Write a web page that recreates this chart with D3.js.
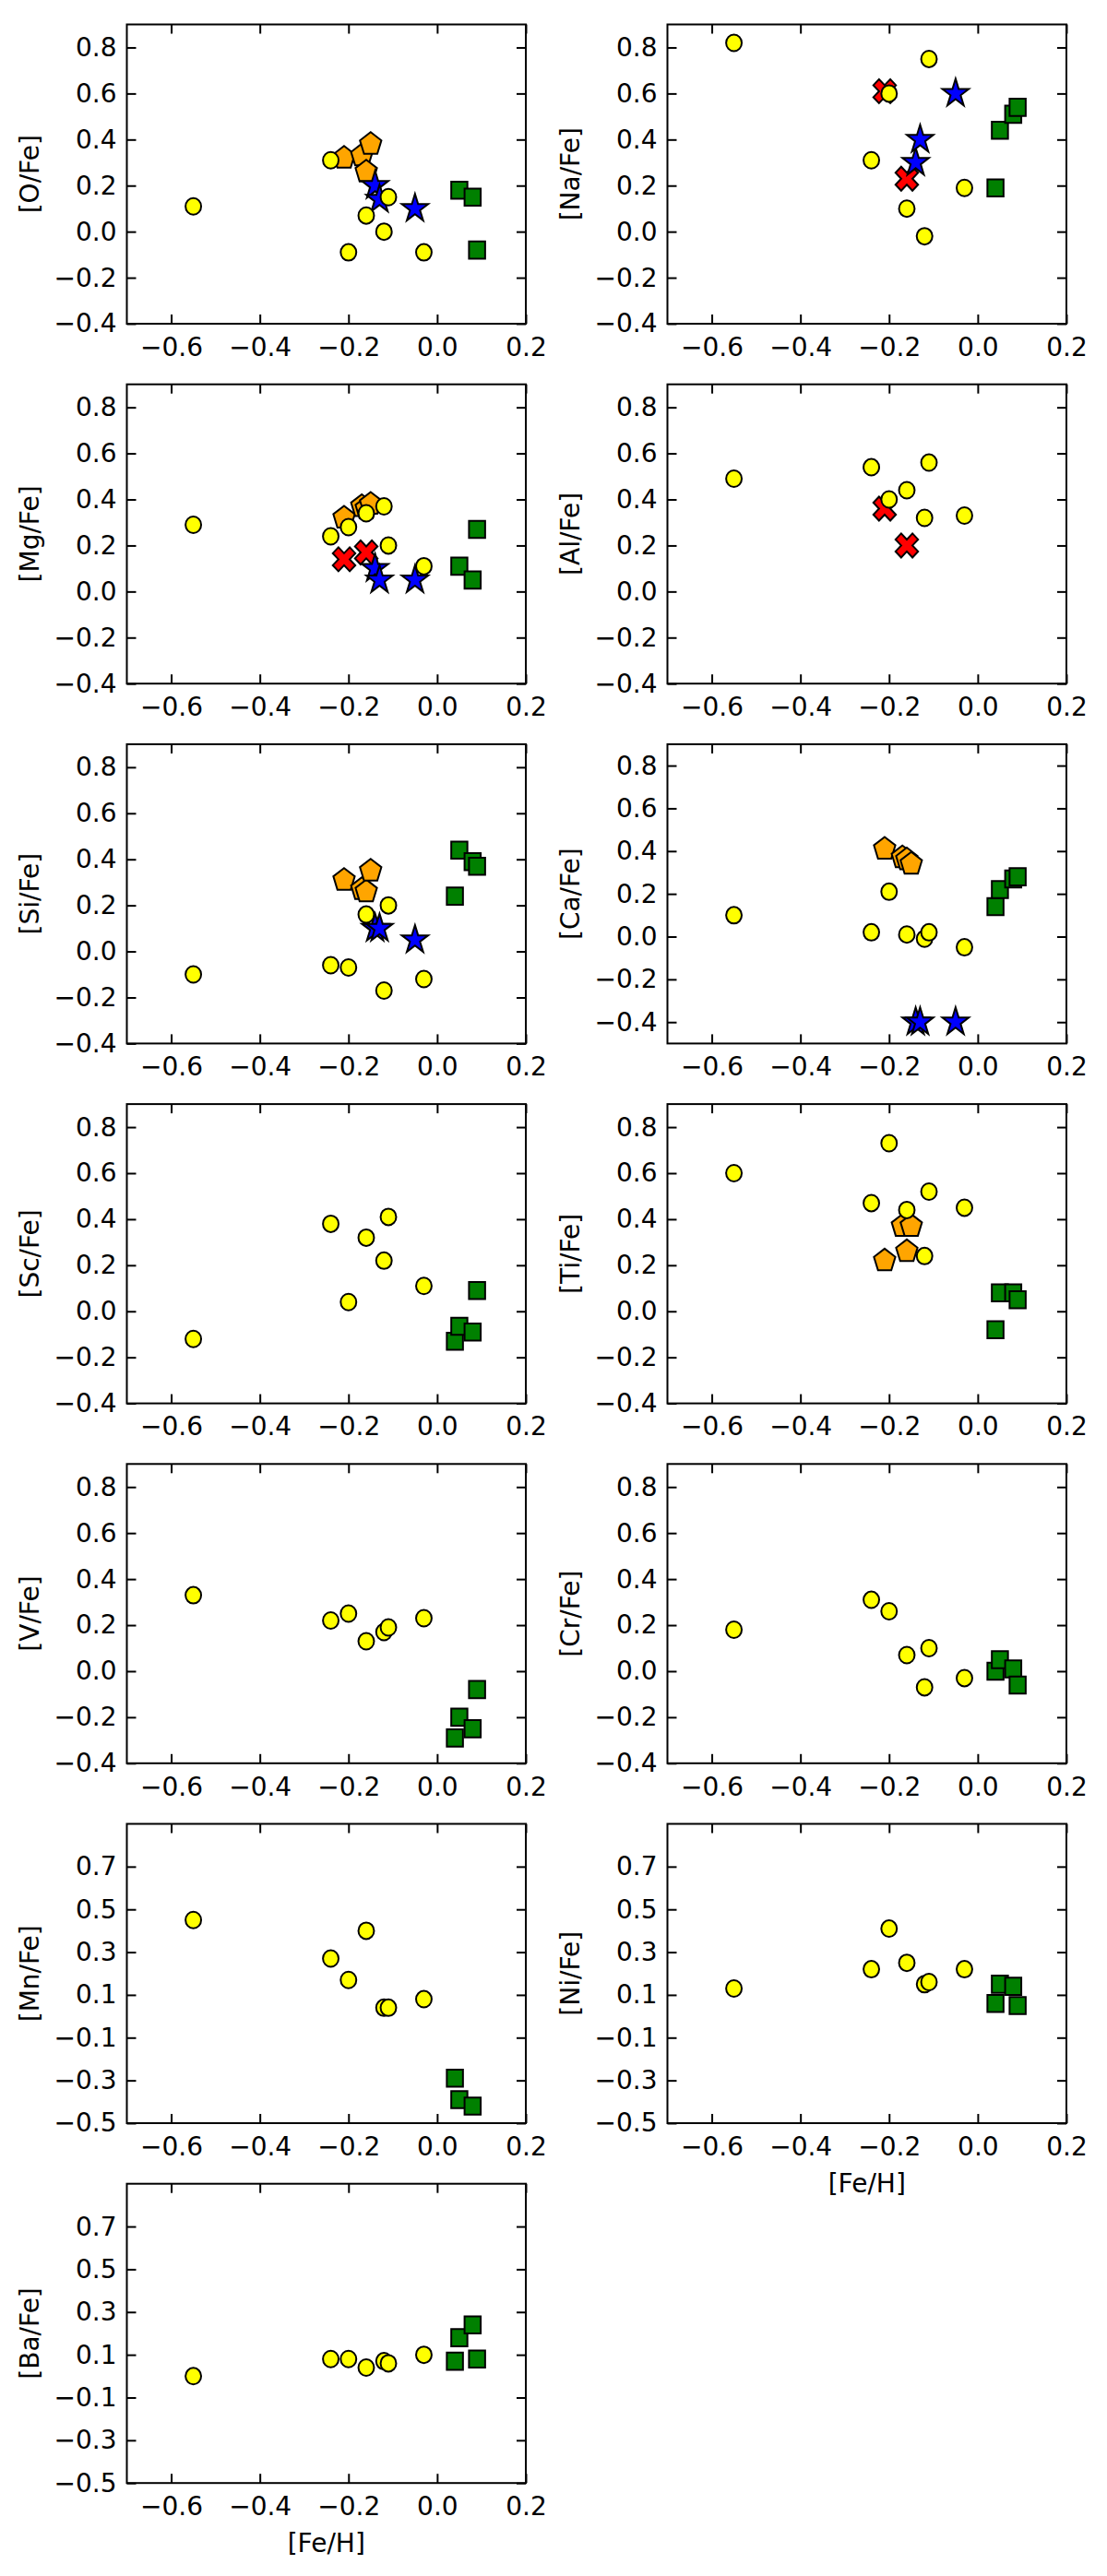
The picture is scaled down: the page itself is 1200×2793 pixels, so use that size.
<!DOCTYPE html>
<html>
<head>
<meta charset="utf-8">
<script src="https://cdn.jsdelivr.net/npm/d3@7"></script>
<style>
body { margin: 0; background: #ffffff; }
svg text { font-family: "DejaVu Sans", sans-serif; }
</style>
</head>
<body>
<div id="chart"></div>
<script>

// ---DATA---//

var elements = [ "O", "Na", "Mg", "Al", "Si", "Ca", "Sc", "Ti", "V", "Cr", "Mn", "Ni", "Ba" ];

// lower y limit of each panel (upper is 0.9 everywhere)
var yLow = [ -0.4, -0.4, -0.4, -0.4, -0.4, -0.5, -0.4, -0.4, -0.4, -0.4, -0.5, -0.5, -0.5 ];

var xTicks = [ -0.6, -0.4, -0.2, 0.0, 0.2 ];
var yTicksEven = [ -0.4, -0.2, 0.0, 0.2, 0.4, 0.6, 0.8 ];
var yTicksOdd = [ -0.5, -0.3, -0.1, 0.1, 0.3, 0.5, 0.7 ];

// [Fe/H] of each group of stars
var fehOrange = [ -0.21, -0.17, -0.16, -0.15 ];
var fehRed = [ -0.21, -0.16 ];
var fehBlue = [ -0.14, -0.13, -0.05 ];
var fehGreen = [ 0.04, 0.05, 0.08, 0.09 ];
var fehYellow = [ -0.55, -0.24, -0.20, -0.16, -0.12, -0.11, -0.03 ];

// [X/Fe], one row per element (same order as elements), null = not measured
var orangeValues = [
	[ 0.32, 0.33, 0.26, 0.38 ], // O
	null, // Na
	[ 0.32, 0.37, 0.36, 0.38 ], // Mg
	null, // Al
	[ 0.31, 0.27, 0.26, 0.35 ], // Si
	[ 0.41, 0.37, 0.36, 0.34 ], // Ca
	null, // Sc
	[ 0.22, 0.37, 0.26, 0.37 ], // Ti
	null, null, null, null, null ];

var redValues = [
	null, // O
	[ 0.61, 0.23 ], // Na
	[ 0.14, 0.17 ], // Mg
	[ 0.36, 0.20 ], // Al
	null, null, null, null, null, null, null, null, null ];

var blueValues = [
	[ 0.20, 0.14, 0.10 ], // O
	[ 0.30, 0.40, 0.60 ], // Na
	[ 0.10, 0.05, 0.05 ], // Mg
	null, // Al
	[ 0.10, 0.10, 0.05 ], // Si
	[ -0.40, -0.40, -0.40 ], // Ca
	null, null, null, null, null, null, null ];

var greenValues = [
	[ null, 0.18, 0.15, -0.08 ], // O
	[ 0.19, 0.44, 0.51, 0.54 ], // Na
	[ null, 0.11, 0.05, 0.27 ], // Mg
	null, // Al
	[ 0.24, 0.44, 0.39, 0.37 ], // Si
	[ 0.14, 0.22, 0.27, 0.28 ], // Ca
	[ -0.13, -0.065, -0.09, 0.09 ], // Sc
	[ -0.08, 0.08, 0.08, 0.05 ], // Ti
	[ -0.29, -0.20, -0.25, -0.08 ], // V
	[ 0.00, 0.05, 0.01, -0.06 ], // Cr
	[ -0.29, -0.39, -0.42, null ], // Mn
	[ 0.06, 0.15, 0.14, 0.05 ], // Ni
	[ 0.07, 0.18, 0.24, 0.08 ] // Ba
];

var yellowValues = [
	[ 0.11, 0.31, -0.09, 0.07, 0.00, 0.15, -0.09 ], // O
	[ 0.82, 0.31, 0.60, 0.10, -0.02, 0.75, 0.19 ], // Na
	[ 0.29, 0.24, 0.28, 0.34, 0.37, 0.20, 0.11 ], // Mg
	[ 0.49, 0.54, 0.40, 0.44, 0.32, 0.56, 0.33 ], // Al
	[ -0.10, -0.06, -0.07, 0.16, -0.17, 0.20, -0.12 ], // Si
	[ 0.10, 0.02, 0.21, 0.01, -0.01, 0.02, -0.05 ], // Ca
	[ -0.12, 0.38, 0.04, 0.32, 0.22, 0.41, 0.11 ], // Sc
	[ 0.60, 0.47, 0.73, 0.44, 0.24, 0.52, 0.45 ], // Ti
	[ 0.33, 0.22, 0.25, 0.13, 0.17, 0.19, 0.23 ], // V
	[ 0.18, 0.31, 0.26, 0.07, -0.07, 0.10, -0.03 ], // Cr
	[ 0.45, 0.27, 0.17, 0.40, 0.04, 0.04, 0.08 ], // Mn
	[ 0.13, 0.22, 0.41, 0.25, 0.15, 0.16, 0.22 ], // Ni
	[ 0.00, 0.08, 0.08, 0.04, 0.07, 0.06, 0.10 ] // Ba
];

// ---LAYOUT---//

var width = 1200;
var height = 2793;
var panelLeft = [ 137.5, 723.5 ];
var panelWidth = 432.5;
var panelHeight = 324.5;
var firstTop = 26.5;
var rowPitch = 390.2;
var fontSize = 28;
var lineWidth = 2;

// ---MARKERS---//

function closedPath(points) {
	return "M" + points.map(function(p) {
		return p[0].toFixed(2) + "," + p[1].toFixed(2);
	}).join("L") + "Z";
}

function polygonPoints(n, r) {
	return d3.range(n).map(function(i) {
		var a = -Math.PI / 2 + i * 2 * Math.PI / n;
		return [ r * Math.cos(a), r * Math.sin(a) ];
	});
}

function starPoints(rOut, rIn) {
	return d3.range(10).map(function(i) {
		var r = (i % 2 === 0) ? rOut : rIn;
		var a = -Math.PI / 2 + i * Math.PI / 5;
		return [ r * Math.cos(a), r * Math.sin(a) ];
	});
}

// filled "X": outline spans -2..2, scaled so that half the extent is h
function crossPoints(h) {
	var pts = [ [ -1, -2 ], [ 0, -1 ], [ 1, -2 ], [ 2, -1 ], [ 1, 0 ], [ 2, 1 ],
			[ 1, 2 ], [ 0, 1 ], [ -1, 2 ], [ -2, 1 ], [ -1, 0 ], [ -2, -1 ] ];
	return pts.map(function(p) {
		return [ p[0] * h / 2, p[1] * h / 2 ];
	});
}

var circleR = 9;
var squareHalf = 9.3;

var groups = [ {
	feh : fehOrange,
	values : orangeValues,
	fill : "#ffa500",
	path : closedPath(polygonPoints(5, 13))
}, {
	feh : fehRed,
	values : redValues,
	fill : "#ff0000",
	path : closedPath(crossPoints(13))
}, {
	feh : fehBlue,
	values : blueValues,
	fill : "#0000ff",
	path : closedPath(starPoints(16, 16 * 0.381966))
}, {
	feh : fehGreen,
	values : greenValues,
	fill : "#008000",
	path : closedPath([ [ -squareHalf, -squareHalf ], [ squareHalf, -squareHalf ],
			[ squareHalf, squareHalf ], [ -squareHalf, squareHalf ] ])
}, {
	feh : fehYellow,
	values : yellowValues,
	fill : "#ffff00",
	path : null
} ];

// ---CHART---//

var svg = d3.select("#chart").append("svg")
		.attr("width", width)
		.attr("height", height)
		.attr("viewBox", "0 0 " + width + " " + height);

svg.append("rect").attr("width", width).attr("height", height).attr("fill", "#ffffff");

var tickFormat = d3.format(".1f");

function styleAxis(g) {
	g.attr("font-size", fontSize).attr("font-family", "DejaVu Sans, sans-serif");
	g.select(".domain").remove();
	g.selectAll(".tick line").attr("stroke", "#000").attr("stroke-width", lineWidth);
	g.selectAll(".tick text").attr("fill", "#000");
}

elements.forEach(function(el, k) {

	var col = k % 2;
	var row = Math.floor(k / 2);
	var left = panelLeft[col];
	var top = firstTop + row * rowPitch;

	var x = d3.scaleLinear().domain([ -0.7, 0.2 ]).range([ 0, panelWidth ]);
	var y = d3.scaleLinear().domain([ yLow[k], 0.9 ]).range([ panelHeight, 0 ]);
	var yTicks = (yLow[k] === -0.5 && el !== "Ca") ? yTicksOdd : yTicksEven;

	var panel = svg.append("g").attr("class", "panel")
			.attr("transform", "translate(" + left + "," + top + ")");

	// axes, ticks pointing inward on all four sides
	panel.append("g")
			.attr("transform", "translate(0," + panelHeight + ")")
			.call(d3.axisBottom(x).tickValues(xTicks).tickFormat(tickFormat)
					.tickSizeInner(-10).tickSizeOuter(0).tickPadding(15))
			.call(styleAxis);

	panel.append("g")
			.call(d3.axisTop(x).tickValues(xTicks).tickFormat("")
					.tickSizeInner(-10).tickSizeOuter(0))
			.call(styleAxis);

	panel.append("g")
			.call(d3.axisLeft(y).tickValues(yTicks).tickFormat(tickFormat)
					.tickSizeInner(-10).tickSizeOuter(0).tickPadding(11))
			.call(styleAxis);

	panel.append("g")
			.attr("transform", "translate(" + panelWidth + ",0)")
			.call(d3.axisRight(y).tickValues(yTicks).tickFormat("")
					.tickSizeInner(-10).tickSizeOuter(0))
			.call(styleAxis);

	// markers
	var markers = panel.append("g").attr("class", "markers");

	groups.forEach(function(grp) {

		var vals = grp.values[k];
		if (!vals) {
			return;
		}

		var pts = grp.feh.map(function(f, i) {
			return {
				feh : f,
				val : vals[i]
			};
		}).filter(function(d) {
			return d.val !== null;
		});

		var sel = markers.selectAll(null).data(pts).enter();
		var shapes;

		if (grp.path === null) {
			shapes = sel.append("circle").attr("r", circleR);
		} else {
			shapes = sel.append("path").attr("d", grp.path);
		}

		shapes.attr("transform", function(d) {
			return "translate(" + x(d.feh) + "," + y(d.val) + ") scale(0.94,1)";
		}) //
		.attr("fill", grp.fill) //
		.attr("stroke", "#000") //
		.attr("stroke-width", lineWidth) //
		.attr("stroke-linejoin", "miter") //
		.attr("vector-effect", "non-scaling-stroke");

	});// END: groups loop

	// frame
	panel.append("rect")
			.attr("width", panelWidth)
			.attr("height", panelHeight)
			.attr("fill", "none")
			.attr("stroke", "#000")
			.attr("stroke-width", lineWidth);

	// y label
	panel.append("text")
			.attr("transform", "translate(-96," + (panelHeight / 2) + ") rotate(-90)")
			.attr("text-anchor", "middle")
			.attr("font-size", fontSize)
			.attr("fill", "#000")
			.text("[" + el + "/Fe]");

	// x label only on the lowest panel of each column
	if (el === "Ba" || el === "Ni") {
		panel.append("text")
				.attr("x", panelWidth / 2)
				.attr("y", panelHeight + 75)
				.attr("text-anchor", "middle")
				.attr("font-size", fontSize)
				.attr("fill", "#000")
				.text("[Fe/H]");
	}

});// END: elements loop

</script>
</body>
</html>
